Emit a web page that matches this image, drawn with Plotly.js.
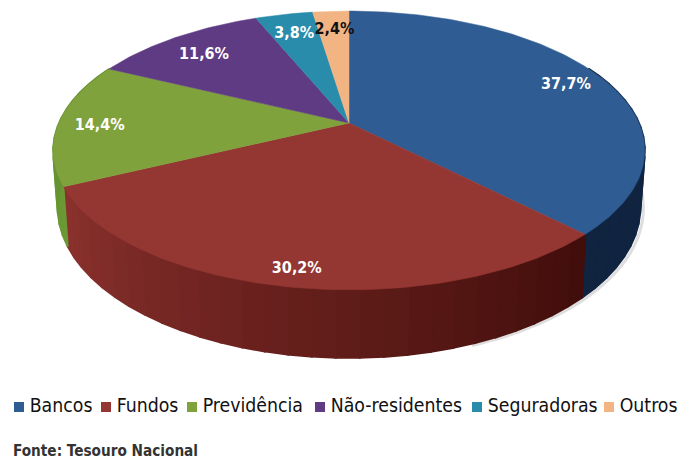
<!DOCTYPE html>
<html><head><meta charset="utf-8">
<script src="https://cdn.plot.ly/plotly-3.0.1.min.js"></script>
<style>html,body{margin:0;padding:0;background:#fff}#c{width:681px;height:459px}</style>
</head><body><div id="c"></div>
<script>
// ---- data ----
var categories = ["Bancos","Fundos","Previdência","Não-residentes","Seguradoras","Outros"];
var values = [37.7,30.2,14.4,11.6,3.8,2.4];
var labels = ["37,7%","30,2%","14,4%","11,6%","3,8%","2,4%"];
// ---- styles ----
var topColors = ["#2f5c92","#943632","#7fa23d","#5f3b84","#2a8cab","#f2b483"];
var wallFrom  = ["#12294a","#400d0a","#6c9a35","#452a62","#1d6880","#c08a5c"];
var wallTo    = ["#10233f","#8c322e","#5c8a2e","#452a62","#1d6880","#c08a5c"];
var labelColors = ["#fff","#fff","#fff","#fff","#fff","#111"];
var labelRadius = [0.86,0.905,0.86,0.785,0.82,0.83];
var labelNudgeX = [0,2.5,0,-5,0,1];
var labelNudgeY = [3,1,3,1,3,2];
var legendX = [19,106,192,320,477,609];
var FONT = '"DejaVu Sans Condensed","DejaVu Sans",sans-serif';
// ---- projection of a tilted disc ----
var CX=349, CY=123, A=290, B=134, K=0.197, D=54.6, SHR=0.985;
function proj(deg,r){
  var t=deg*Math.PI/180, u=r*Math.sin(t), v=-r*Math.cos(t), den=1-K*v;
  return {x:CX+A*u/den, y:CY+B*v/den, den:den, v:v};
}
function low(deg){
  var p=proj(deg,1);
  return {x:CX+(p.x-CX)*SHR, y:p.y+D/p.den, v:p.v};
}
function hex(c){return [1,3,5].map(function(i){return parseInt(c.substr(i,2),16)})}
function mix(a,b,f){var A1=hex(a),B1=hex(b);return "rgb("+A1.map(function(x,i){return Math.round(x+(B1[i]-x)*f)}).join(",")+")"}
var total=values.reduce(function(s,x){return s+x},0);
var traces=[], ang=0, spans=[];
values.forEach(function(val){var e=ang+val/total*360; spans.push([ang,e]); ang=e;});
// soft shadow along the right of the rim
var sx=[],sy=[];
for(var a=70;a<=160;a+=2){var q=low(a);sx.push(q.x+3);sy.push(q.y+1);}
traces.push({type:"scatter",mode:"lines",x:sx,y:sy,line:{color:"rgba(70,70,70,0.18)",width:3,shape:"spline"},hoverinfo:"skip",showlegend:false});
// rim
spans.forEach(function(s,i){
  var n=Math.max(2,Math.ceil((s[1]-s[0])/4));
  for(var j=0;j<n;j++){
    var a0=s[0]+(s[1]-s[0])*j/n, a1=s[0]+(s[1]-s[0])*(j+1)/n;
    if(proj((a0+a1)/2,1).v<-0.45) continue;
    var p0=proj(a0,1),p1=proj(a1,1),q0=low(a0),q1=low(a1);
    var c=mix(wallFrom[i],wallTo[i],(j+.5)/n);
    traces.push({type:"scatter",mode:"lines",x:[p0.x,p1.x,q1.x,q0.x,p0.x],y:[p0.y,p1.y,q1.y,q0.y,p0.y],
      fill:"toself",fillcolor:c,line:{color:c,width:2},hoverinfo:"skip",showlegend:false});
  }
});
// top face
spans.forEach(function(s,i){
  var xs=[CX],ys=[CY];
  for(var a=s[0];a<s[1];a+=1){var p=proj(a,1);xs.push(p.x);ys.push(p.y);}
  var pe=proj(s[1],1);xs.push(pe.x,CX);ys.push(pe.y,CY);
  traces.push({type:"scatter",mode:"lines",name:categories[i],x:xs,y:ys,fill:"toself",fillcolor:topColors[i],
    line:{color:topColors[i],width:0.5},hoverinfo:"skip",showlegend:false});
});
// value labels
var lx=[],ly=[];
spans.forEach(function(s,i){var p=proj((s[0]+s[1])/2,labelRadius[i]);lx.push(p.x+labelNudgeX[i]);ly.push(p.y+labelNudgeY[i]);});
traces.push({type:"scatter",mode:"text",x:lx,y:ly,text:labels,textposition:"middle center",
  textfont:{family:FONT,size:16,color:labelColors,weight:700},hoverinfo:"skip",showlegend:false,cliponaxis:false});
// legend row
traces.push({type:"scatter",mode:"markers+text",x:legendX,y:categories.map(function(){return 407}),
  text:categories.map(function(c){return "\u2009"+c}),textposition:"middle right",
  marker:{symbol:"square",size:10,color:topColors},
  textfont:{family:FONT,size:19.3,color:"#111"},hoverinfo:"skip",showlegend:false,cliponaxis:false});
var layout={width:681,height:459,margin:{l:0,r:0,t:0,b:0},paper_bgcolor:"#fff",plot_bgcolor:"#fff",showlegend:false,hovermode:false,
  xaxis:{range:[0,681],visible:false,fixedrange:true},
  yaxis:{range:[459,0],visible:false,fixedrange:true},
  annotations:[{xref:"paper",yref:"paper",x:12/681,y:1-451/459,xanchor:"left",yanchor:"middle",showarrow:false,borderpad:0,
    text:"Fonte: Tesouro Nacional",font:{family:FONT,size:15.2,color:"#333",weight:700}}]};
Plotly.newPlot("c",traces,layout,{displayModeBar:false,staticPlot:true});
</script></body></html>
